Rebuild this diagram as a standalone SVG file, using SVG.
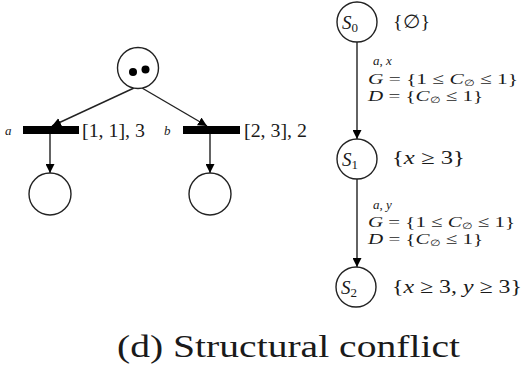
<svg xmlns="http://www.w3.org/2000/svg" width="525" height="368" viewBox="0 0 525 368">
<defs>
<style>
.pl{fill:#fff;stroke:#222;stroke-width:1.4}
.ln{stroke:#222;stroke-width:1.4;fill:none}
.tr{fill:#000}
.t{font-family:"Liberation Serif","DejaVu Serif",serif;fill:#1a1a1a}
.i{font-style:italic}
.lab{font-size:19px}
.sm{font-size:13px}
.mid{font-size:15.5px}
</style>
<marker id="ah" viewBox="0 0 10 10" refX="10" refY="5" markerWidth="9" markerHeight="9" markerUnits="userSpaceOnUse" orient="auto">
<path d="M0,0 L10,5 L0,10 z" fill="#000"/>
</marker>
</defs>
<rect width="525" height="368" fill="#fff"/>
<g id="connectors">
<line class="ln" x1="134" y1="88" x2="52" y2="126" marker-end="url(#ah)"/>
<line class="ln" x1="142" y1="88" x2="207" y2="126" marker-end="url(#ah)"/>
<line class="ln" x1="50" y1="134" x2="50" y2="173" marker-end="url(#ah)"/>
<line class="ln" x1="210" y1="134" x2="210" y2="173" marker-end="url(#ah)"/>
<line class="ln" x1="357" y1="42" x2="357" y2="139" marker-end="url(#ah)"/>
<line class="ln" x1="357" y1="179" x2="357" y2="267" marker-end="url(#ah)"/>
</g>
<g id="p0">
<circle class="pl" cx="138" cy="68" r="20.5"/>
<circle cx="133" cy="72" r="4" fill="#000"/>
<circle cx="145.5" cy="69.5" r="4" fill="#000"/>
</g>
<g id="ta">
<rect class="tr" x="23" y="126" width="56" height="8"/>
<text class="t i sm" x="5" y="135">a</text>
<text class="t lab" x="82" y="137" textLength="63" lengthAdjust="spacingAndGlyphs">[1, 1], 3</text>
</g>
<g id="tb">
<rect class="tr" x="183" y="126" width="57" height="8"/>
<text class="t i sm" x="164" y="135">b</text>
<text class="t lab" x="244" y="137" textLength="63" lengthAdjust="spacingAndGlyphs">[2, 3], 2</text>
</g>
<g id="p1"><circle class="pl" cx="50" cy="194" r="21"/></g>
<g id="p2"><circle class="pl" cx="210" cy="194" r="21"/></g>
<g id="s0">
<circle class="pl" cx="357" cy="22" r="20"/>
<text class="t lab" x="342" y="29" font-size="20"><tspan class="i">S</tspan><tspan font-size="13" dy="3">0</tspan></text>
<text class="t lab" x="393" y="28" textLength="37" lengthAdjust="spacingAndGlyphs">{∅}</text>
</g>
<g id="e01">
<text class="t i sm" x="373" y="65">a<tspan font-style="normal">,</tspan> x</text>
<text class="t mid" x="368" y="84" textLength="150" lengthAdjust="spacingAndGlyphs"><tspan class="i">G</tspan> = {1 ≤ <tspan class="i">C</tspan><tspan font-size="9" dy="2">∅</tspan><tspan dy="-2"> ≤ 1}</tspan></text>
<text class="t mid" x="368" y="101" textLength="115" lengthAdjust="spacingAndGlyphs"><tspan class="i">D</tspan> = {<tspan class="i">C</tspan><tspan font-size="9" dy="2">∅</tspan><tspan dy="-2"> ≤ 1}</tspan></text>
</g>
<g id="s1">
<circle class="pl" cx="357" cy="159" r="20"/>
<text class="t lab" x="342" y="166" font-size="20"><tspan class="i">S</tspan><tspan font-size="13" dy="3">1</tspan></text>
<text class="t lab" x="392" y="164" textLength="73" lengthAdjust="spacingAndGlyphs">{<tspan class="i">x</tspan> ≥ 3}</text>
</g>
<g id="e12">
<text class="t i sm" x="373" y="209">a<tspan font-style="normal">,</tspan> y</text>
<text class="t mid" x="368" y="227" textLength="147" lengthAdjust="spacingAndGlyphs"><tspan class="i">G</tspan> = {1 ≤ <tspan class="i">C</tspan><tspan font-size="9" dy="2">∅</tspan><tspan dy="-2"> ≤ 1}</tspan></text>
<text class="t mid" x="368" y="244" textLength="115" lengthAdjust="spacingAndGlyphs"><tspan class="i">D</tspan> = {<tspan class="i">C</tspan><tspan font-size="9" dy="2">∅</tspan><tspan dy="-2"> ≤ 1}</tspan></text>
</g>
<g id="s2">
<circle class="pl" cx="356" cy="287" r="20"/>
<text class="t lab" x="341" y="294" font-size="20"><tspan class="i">S</tspan><tspan font-size="13" dy="3">2</tspan></text>
<text class="t lab" x="392" y="293" textLength="130" lengthAdjust="spacingAndGlyphs">{<tspan class="i">x</tspan> ≥ 3, <tspan class="i">y</tspan> ≥ 3}</text>
</g>
<text x="117" y="357" font-family="Liberation Serif, DejaVu Serif, serif" font-size="32" fill="#1a1a1a" textLength="343" lengthAdjust="spacingAndGlyphs">(d) Structural conflict</text>
</svg>
